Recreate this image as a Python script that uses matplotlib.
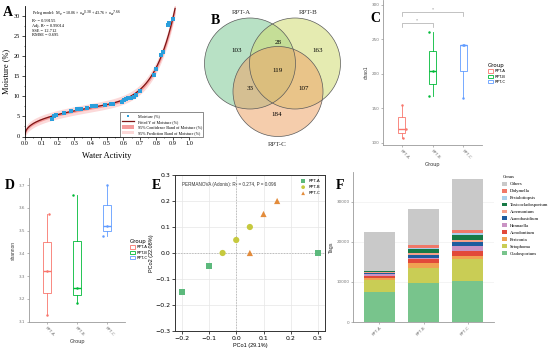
import matplotlib

matplotlib.use("Agg")
import matplotlib.pyplot as plt
import numpy as np
from matplotlib.patches import Circle, Patch

W, H = 554, 349
SERIF = "Liberation Serif"
SANS = "Liberation Sans"

# --- A: moisture sorption isotherm -------------------------------------
water_activity = [0.167, 0.174, 0.19, 0.24, 0.28, 0.32, 0.34, 0.38, 0.41, 0.43,
                  0.49, 0.525, 0.535, 0.59, 0.605, 0.615, 0.63, 0.645, 0.665,
                  0.675, 0.70, 0.786, 0.80, 0.83, 0.84, 0.869, 0.88, 0.90]
moisture = [4.4, 5.0, 5.3, 5.9, 6.25, 6.9, 6.9, 7.2, 7.5, 7.5,
            7.75, 8.0, 8.2, 8.7, 9.0, 9.4, 9.7, 9.6, 9.8,
            10.3, 11.3, 15.25, 16.7, 20.25, 21.1, 27.75, 28.3, 29.2]
peleg_k1, peleg_n1, peleg_k2, peleg_n2 = 10.06, 0.38, 43.76, 7.66
fit_stats = ["R² = 0.99155", "Adj. R² = 0.99014", "SSE = 12.712", "RMSE = 0.695"]

# --- B: shared ASVs ------------------------------------------------------
venn_labels = ["RPT-A", "RPT-B", "RPT-C"]
venn_counts = {"A": 103, "B": 163, "C": 184, "AB": 28, "AC": 33, "BC": 107, "ABC": 119}

# --- C / D: alpha diversity ------------------------------------------------
groups = ["RPT-A", "RPT-B", "RPT-C"]
group_colors = ["#F8766D", "#00BA38", "#619CFF"]
chao1 = [[107, 120, 155], [167, 204, 261], [165, 242, 242]]
shannon = [[3.128, 3.324, 3.572], [3.182, 3.25, 3.657], [3.477, 3.521, 3.70]]

# --- E: PCoA ----------------------------------------------------------------
pco1 = {"RPT-A": [-0.2, -0.1, 0.3], "RPT-B": [-0.05, 0.0, 0.05], "RPT-C": [0.05, 0.1, 0.15]}
pco2 = {"RPT-A": [-0.15, -0.05, 0.0], "RPT-B": [0.0, 0.05, 0.1], "RPT-C": [0.0, 0.15, 0.2]}
pcoa_style = {"RPT-A": ("s", "#5cb97c"), "RPT-B": ("o", "#c6c93e"), "RPT-C": ("^", "#e38c3c")}

# --- F: genus composition (bottom -> top) ---------------------------------
genera = ["Cladosporium", "Setophoma", "Periconia", "Acrodontium", "Hannaella",
          "Aureobasidium", "Acremonium", "Toxicocladosporium", "Pestalotiopsis",
          "Didymella", "Others"]
genus_colors = ["#78c48c", "#c9cd55", "#f0a152", "#e2493a", "#c993c4",
                "#1d5c9e", "#f4a08a", "#177a46", "#a9d0ec", "#f07868", "#c9c9c9"]
tags_a = [7580, 2840, 600, 550, 300, 400, 300, 100, 100, 60, 9570]
tags_b = [9670, 3830, 1170, 1000, 410, 590, 600, 850, 420, 580, 9050]
tags_c = [10330, 5420, 830, 1170, 1250, 920, 580, 1170, 580, 670, 12750]

fig = plt.figure(figsize=(W / 100, H / 100), dpi=100)
fig.patch.set_facecolor("white")


def px_axes(left, top, right, bottom):
    return fig.add_axes([left / W, 1 - bottom / H, (right - left) / W, (bottom - top) / H])


def letter(x, y, s):
    fig.text(x / W, 1 - y / H, s, fontsize=10, fontweight="bold", family=SERIF,
             ha="left", va="center")


def gg_axes(ax):
    for side in ("top", "right"):
        ax.spines[side].set_visible(False)
    for side in ("left", "bottom"):
        ax.spines[side].set_color("#9a9a9a")
        ax.spines[side].set_linewidth(0.6)
    ax.tick_params(length=1.5, width=0.5, color="#9a9a9a", labelsize=3, labelcolor="#777777", pad=1)


# ---------------------------------------------------------------- panel A
ax = px_axes(25, 6, 189, 136.5)
grid = np.linspace(0.0005, 0.915, 400)
fit = peleg_k1 * grid ** peleg_n1 + peleg_k2 * grid ** peleg_n2
ci = 0.35 + 1.0 * grid ** 6
pi = 1.05 + 1.2 * grid ** 6
ax.fill_between(grid, fit - pi, fit + pi, color="#fcd9d9", lw=0,
                label="95% Prediction Band of Moisture (%)")
ax.fill_between(grid, fit - ci, fit + ci, color="#f49b9b", lw=0,
                label="95% Confidence Band of Moisture (%)")
ax.plot(grid, fit, color="#7d1515", lw=0.9, label="Fitted Y of Moisture (%)")
ax.plot(water_activity, moisture, "s", ms=2.2, color="#2a9fdc", mew=0, label="Moisture (%)")
ax.set_xlim(0, 1.0)
ax.set_ylim(0, 32.5)
ax.set_xticks(np.arange(0, 1.01, 0.1))
ax.set_xticks(np.arange(0.05, 1.0, 0.1), minor=True)
ax.set_yticks(np.arange(0, 31, 5))
ax.set_yticks(np.arange(2.5, 31, 5), minor=True)
for side in ("top", "right"):
    ax.spines[side].set_visible(False)
for side in ("left", "bottom"):
    ax.spines[side].set_linewidth(0.6)
ax.tick_params(which="major", length=2, width=0.5, labelsize=4.5, pad=1.5)
ax.tick_params(which="minor", length=1, width=0.4)
for lab in ax.get_xticklabels() + ax.get_yticklabels():
    lab.set_family(SERIF)
ax.set_xlabel("Water Activity", family=SERIF, fontsize=6, labelpad=4)
ax.set_ylabel("Moisture (%)", family=SERIF, fontsize=6, labelpad=3)
eq = ("Peleg model:  M$_e$ = %.2f × a$_w$$^{%.2f}$ + %.2f × a$_w$$^{%.2f}$"
      % (peleg_k1, peleg_n1, peleg_k2, peleg_n2))
ax.text(0.043, 0.94, eq, transform=ax.transAxes, family=SERIF, fontsize=3.0,
        va="center", ha="left")
for i, line in enumerate(fit_stats):
    ax.text(0.043, 0.882 - i * 0.036, line, transform=ax.transAxes,
            family=SERIF, fontsize=3.2, va="center", ha="left")
handles, labels = ax.get_legend_handles_labels()
order = [3, 2, 1, 0]
leg = ax.legend([handles[i] for i in order], [labels[i] for i in order],
                loc="upper left", bbox_to_anchor=(0.567, 0.2),
                prop={"family": SERIF, "size": 3}, frameon=True, fancybox=False,
                edgecolor="black", handlelength=3, handleheight=0.9,
                labelspacing=0.35, borderpad=0.4, markerscale=0.8)
leg.get_frame().set_linewidth(0.4)

# ---------------------------------------------------------------- panel B
ax = px_axes(190, 0, 346, 150)
ax.set_xlim(190, 346)
ax.set_ylim(150, 0)
ax.axis("off")
ax.patch.set_visible(True)
ax.patch.set_facecolor("white")
circles = [((250, 63.5), 45.5, "#7ec996"), ((295, 63.5), 45.5, "#d0dc72"), ((278, 91.5), 45, "#eea468")]
for (cx, cy), r, col in circles:
    ax.add_patch(Circle((cx, cy), r, facecolor=col, alpha=0.55, edgecolor="none"))
for (cx, cy), r, col in circles:
    ax.add_patch(Circle((cx, cy), r, facecolor="none", edgecolor="#5a5a5a", lw=0.5))
label_pos = {"A": (237, 50), "B": (318, 51), "C": (277, 114), "AB": (278, 43),
             "AC": (250, 89), "BC": (304, 89), "ABC": (278, 70)}
for key, (x, y) in label_pos.items():
    ax.text(x, y, str(venn_counts[key]), ha="center", va="center", family=SERIF, fontsize=5)
for name, (x, y) in zip(venn_labels, [(241, 13), (308, 13), (277, 144)]):
    ax.text(x, y, name, ha="center", va="center", family=SERIF, fontsize=5, color="#333333")

# ---------------------------------------------------------------- panel C / D


def box_panel(ax, values, ylim, yticks, ylabel, jitter):
    pos = np.arange(1, len(groups) + 1)
    bp = ax.boxplot(values, positions=pos, widths=0.25, whis=1.5, patch_artist=True,
                    showcaps=False, showfliers=False, medianprops={"lw": 1.0})
    for i, col in enumerate(group_colors):
        bp["boxes"][i].set(facecolor="white", edgecolor=col, lw=0.6)
        bp["medians"][i].set(color=col)
        for w in bp["whiskers"][2 * i:2 * i + 2]:
            w.set(color=col, lw=0.6)
        ax.scatter(pos[i] + np.array(jitter[i]), values[i], s=0.6, color=col, zorder=3)
    ax.set_xlim(0.4, 3.6)
    ax.set_ylim(*ylim)
    ax.set_yticks(yticks)
    ax.set_xticks(pos)
    ax.set_xticklabels(groups, rotation=-45, ha="left", va="top", rotation_mode="anchor")
    gg_axes(ax)
    ax.set_xlabel("Group", fontsize=4, family=SANS, color="#333333", labelpad=2)
    ax.set_ylabel(ylabel, fontsize=3.5, family=SANS, color="#333333", labelpad=2)


def group_legend(x, y):
    handles = [Patch(facecolor="white", edgecolor=c, lw=0.6) for c in group_colors]
    leg = fig.legend(handles, groups, loc="upper left", bbox_to_anchor=(x / W, 1 - y / H),
                     title="Group", frameon=False, fontsize=2.8, title_fontsize=4,
                     handlelength=1.2, handleheight=0.9, labelspacing=0.35,
                     handletextpad=0.5, borderpad=0)
    leg._legend_box.align = "left"


ax = px_axes(383, 0, 482, 145)
box_panel(ax, chao1, (96.5, 307), [100, 150, 200, 250, 300], "chao1",
          [[0.05, 0.15, 0.02], [-0.12, 0.0, -0.1], [0.0, 0.02, 0.0]])
for (x0, x1, yb) in [(1, 2, 273), (1, 3, 289)]:
    ax.plot([x0, x0, x1, x1], [yb - 5, yb, yb, yb - 5], color="#aaaaaa", lw=0.5)
    ax.text((x0 + x1) / 2, yb + 1, "*", ha="center", va="bottom", fontsize=3, color="#777777")
group_legend(486, 61)

ax = px_axes(29, 178.4, 125, 322)
box_panel(ax, shannon, (3.099, 3.729), [3.1, 3.2, 3.3, 3.4, 3.5, 3.6, 3.7], "shannon",
          [[0.0, 0.0, 0.05], [0.0, 0.0, -0.12], [-0.12, 0.0, 0.0]])
group_legend(128, 237)

# ---------------------------------------------------------------- panel E
ax = px_axes(175, 175, 325, 331)
ax.set_axisbelow(True)
ax.grid(color="#e6e6e6", lw=0.5)
ax.axhline(0, color="#aaaaaa", lw=0.5, ls=(0, (2, 2)))
ax.axvline(0, color="#aaaaaa", lw=0.5, ls=(0, (2, 2)))
for g in groups:
    m, c = pcoa_style[g]
    ax.scatter(pco1[g], pco2[g], marker=m, s=20, color=c, edgecolors="none", label=g, zorder=3)
ax.set_xlim(-0.2245, 0.3255)
ax.set_ylim(-0.3, 0.3)
ax.set_xticks([-0.2, -0.1, 0.0, 0.1, 0.2, 0.3])
ax.set_yticks([-0.3, -0.2, -0.1, 0.0, 0.1, 0.2, 0.3])
for s in ax.spines.values():
    s.set_linewidth(0.7)
    s.set_color("#333333")
ax.tick_params(length=2, width=0.5, labelsize=4.5, pad=1.5)
ax.set_xlabel("PCo1 (29.1%)", fontsize=4, family=SANS, labelpad=1.5)
ax.set_ylabel("PCo2 (22.08%)", fontsize=4, family=SANS, labelpad=1)
ax.text(0.05, 0.955, "PERMANOVA (Adonis): R² = 0.274, P = 0.096", transform=ax.transAxes,
        fontsize=3.3, family=SANS, va="top", ha="left", color="#333333")
ax.legend(loc="upper right", frameon=False, fontsize=3, markerscale=0.6,
          handletextpad=0.4, labelspacing=0.5, borderaxespad=0.6)

# ---------------------------------------------------------------- panel F
ax = px_axes(353, 172, 494, 322)
pos = np.arange(1, 4)
bottom = np.zeros(3)
for i, name in enumerate(genera):
    vals = np.array([tags_a[i], tags_b[i], tags_c[i]])
    ax.bar(pos, vals, bottom=bottom, width=0.7, color=genus_colors[i], label=name, lw=0)
    bottom += vals
ax.set_xlim(0.4, 3.6)
ax.set_ylim(0, bottom.max() * 1.05)
ax.set_yticks([0, 10000, 20000, 30000])
ax.set_xticks(pos)
ax.set_xticklabels(groups, rotation=45, ha="right", va="top", rotation_mode="anchor")
ax.set_axisbelow(True)
ax.yaxis.grid(color="#f0f0f0", lw=0.5)
gg_axes(ax)
ax.set_ylabel("Tags", fontsize=4, family=SANS, color="#333333", labelpad=2)
handles, labels = ax.get_legend_handles_labels()
leg = fig.legend(handles[::-1], labels[::-1], loc="upper left",
                 bbox_to_anchor=(500 / W, 1 - 173 / H), title="Genus", frameon=False,
                 prop={"family": SERIF, "size": 3.4}, handlelength=1.0, handleheight=0.9,
                 labelspacing=0.5, handletextpad=0.6, borderpad=0)
leg.get_title().set_family(SERIF)
leg.get_title().set_fontsize(3.4)
leg._legend_box.align = "left"

letter(3, 13, "A")
letter(211, 20, "B")
letter(370, 18, "C")
letter(5, 185, "D")
letter(152, 185, "E")
letter(336, 185, "F")

fig.savefig("out.png", dpi=100, facecolor="white")
